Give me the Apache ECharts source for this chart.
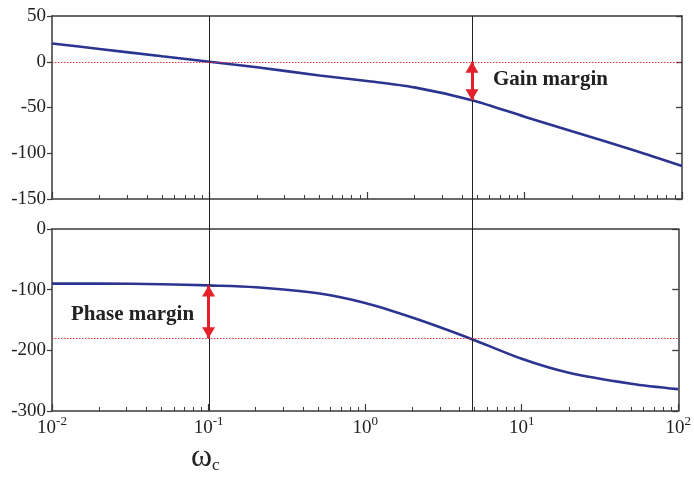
<!DOCTYPE html>
<html>
<head>
<meta charset="utf-8">
<script src="https://cdn.jsdelivr.net/npm/echarts@6/dist/echarts.min.js"></script>
<style>
  html, body { margin: 0; padding: 0; background: #fff; }
  #chart { width: 694px; height: 480px; }
</style>
</head>
<body>
<div id="chart"></div>
<script>
// Bode plot: open-loop magnitude (dB) and phase (deg) vs frequency
const omega      = [0.01, 0.02, 0.05, 0.1, 0.2, 0.5, 1, 2, 4.64, 10, 20, 50, 100];
const magnitude  = [20, 14, 6, 0, -6, -15, -21, -28, -42, -60, -76, -97, -114];
const phase      = [-90, -90, -91, -93, -96, -106, -122, -146, -180, -214, -237, -255, -264];

const omegaCross = 0.1;    // gain crossover (0 dB)
const omegaPhase = 4.64;   // phase crossover (-180 deg)
const gainAtPhaseCross = -42;
const phaseAtGainCross = -93;

const decadeTicks = [0.01, 0.1, 1, 10, 100];
const magTicks    = [50, 0, -50, -100, -150];
const phaseTicks  = [0, -100, -200, -300];

const minorTicks = [];
decadeTicks.slice(0, -1).forEach(d => {
  for (let k = 2; k <= 9; k++) minorTicks.push(+(d * k).toPrecision(3));
});

const FONT = 'Liberation Serif';
const AXIS_COLOR = '#3a3a3a';
const CURVE_COLOR = '#2b3591';
const RED = '#e3202b';

const chart = echarts.init(document.getElementById('chart'));

function logX(gridIndex, extra) {
  return Object.assign({
    type: 'log', logBase: 10, gridIndex,
    min: decadeTicks[0], max: decadeTicks[decadeTicks.length - 1],
    splitLine: { show: false },
    axisLine: { show: true, onZero: false, lineStyle: { color: AXIS_COLOR, width: 1.5 } },
    axisTick: { show: false },
    axisLabel: { show: false }
  }, extra);
}

function majorX(gridIndex, withLabels) {
  return logX(gridIndex, {
    position: 'bottom',
    axisTick: { show: true, inside: true, length: 7, customValues: decadeTicks,
      lineStyle: { color: AXIS_COLOR, width: 1.2 } },
    axisLabel: withLabels ? {
      show: true, customValues: decadeTicks, margin: 3,
      formatter: v => '{b|10}{s|' + Math.round(Math.log10(v)) + '}',
      rich: {
        b: { fontFamily: FONT, fontSize: 19, color: '#222', lineHeight: 24, verticalAlign: 'bottom' },
        s: { fontFamily: FONT, fontSize: 13, color: '#222', lineHeight: 13, verticalAlign: 'bottom', padding: [0, 0, 10, 0] }
      }
    } : { show: false }
  });
}

function minorX(gridIndex) {
  return logX(gridIndex, {
    position: 'bottom', offset: 0,
    axisLine: { show: false, onZero: false },
    axisTick: { show: true, inside: true, length: 4, customValues: minorTicks,
      lineStyle: { color: AXIS_COLOR, width: 1 } }
  });
}

function frameTopX(gridIndex) {
  return logX(gridIndex, { position: 'top' });
}

function yAxisPair(gridIndex, ticks) {
  const base = {
    type: 'value', gridIndex,
    min: ticks[ticks.length - 1], max: ticks[0], interval: ticks[0] - ticks[1],
    splitLine: { show: false },
    axisLine: { show: true, onZero: false, lineStyle: { color: AXIS_COLOR, width: 1.5 } }
  };
  return [
    Object.assign({}, base, {
      position: 'left',
      axisTick: { show: true, inside: false, length: 5, lineStyle: { color: AXIS_COLOR, width: 1.2 } },
      axisLabel: { show: true, margin: 6, fontFamily: FONT, fontSize: 19, color: '#222' }
    }),
    Object.assign({}, base, {
      position: 'right',
      axisTick: { show: true, inside: true, length: 6, lineStyle: { color: AXIS_COLOR, width: 1.3 } },
      axisLabel: { show: false }
    })
  ];
}

const curveStyle = { color: CURVE_COLOR, width: 2.6 };
const dottedRed = { color: RED, width: 1, type: [1.5, 1.5], opacity: 0.9 };
const arrowStyle = { color: RED, width: 3, type: 'solid' };
// triangle heads pulled inward so their tips sit exactly on the end values
const arrowMark = {
  symbol: ['triangle', 'triangle'], symbolSize: [13, 11],
  symbolOffset: [[0, 5.5], [0, 5.5]],
  silent: true, label: { show: false }, lineStyle: arrowStyle
};

chart.setOption({
  animation: false,
  backgroundColor: '#fff',
  grid: [
    { left: 52, top: 16, width: 630, height: 183 },
    { left: 52, top: 229, width: 630, height: 182 },
    { left: 52, top: 16, width: 630, height: 395 }
  ],
  xAxis: [
    majorX(0, false), minorX(0), frameTopX(0),
    majorX(1, true),  minorX(1), frameTopX(1),
    logX(2, { show: false })
  ],
  yAxis: [
    ...yAxisPair(0, magTicks),
    ...yAxisPair(1, phaseTicks),
    { type: 'value', gridIndex: 2, min: 0, max: 1, show: false }
  ],
  series: [
    {
      // crossover frequency markers spanning both panels
      type: 'line', xAxisIndex: 6, yAxisIndex: 4, data: [], z: 1, silent: true,
      markLine: {
        symbol: 'none', silent: true, label: { show: false },
        lineStyle: { color: '#222', width: 1, type: 'solid' },
        data: [{ xAxis: omegaCross }, { xAxis: omegaPhase }]
      }
    },
    {
      name: 'Magnitude', type: 'line', xAxisIndex: 0, yAxisIndex: 0,
      data: omega.map((w, i) => [w, magnitude[i]]),
      showSymbol: false, smooth: 0.3, lineStyle: curveStyle, z: 3,
      markLine: {
        symbol: 'none', silent: true, label: { show: false }, lineStyle: dottedRed,
        data: [{ yAxis: 0 }]
      }
    },
    {
      name: 'Phase', type: 'line', xAxisIndex: 3, yAxisIndex: 2,
      data: omega.map((w, i) => [w, phase[i]]),
      showSymbol: false, smooth: 0.3, lineStyle: curveStyle, z: 3,
      markLine: {
        symbol: 'none', silent: true, label: { show: false }, lineStyle: dottedRed,
        data: [{ yAxis: -180 }]
      }
    },
    {
      name: 'Gain margin', type: 'line', xAxisIndex: 0, yAxisIndex: 0, data: [], z: 4,
      markLine: Object.assign({}, arrowMark, {
        data: [[{ coord: [omegaPhase, 0] }, { coord: [omegaPhase, gainAtPhaseCross] }]]
      })
    },
    {
      name: 'Phase margin', type: 'line', xAxisIndex: 3, yAxisIndex: 2, data: [], z: 4,
      markLine: Object.assign({}, arrowMark, {
        data: [[{ coord: [omegaCross, phaseAtGainCross] }, { coord: [omegaCross, -180] }]]
      })
    }
  ],
  graphic: [
    { type: 'text', left: 493, top: 69,
      style: { text: 'Gain margin', font: 'bold 21px "Liberation Serif"', fill: '#222' } },
    { type: 'text', left: 71, top: 304,
      style: { text: 'Phase margin', font: 'bold 21px "Liberation Serif"', fill: '#222' } },
    { type: 'text', left: 191, top: 442,
      style: {
        text: '{w|ω}{c|c}',
        rich: {
          w: { fontFamily: FONT, fontSize: 32, fill: '#222' },
          c: { fontFamily: FONT, fontSize: 17, fill: '#222', verticalAlign: 'bottom' }
        }
      } }
  ]
});
</script>
</body>
</html>
